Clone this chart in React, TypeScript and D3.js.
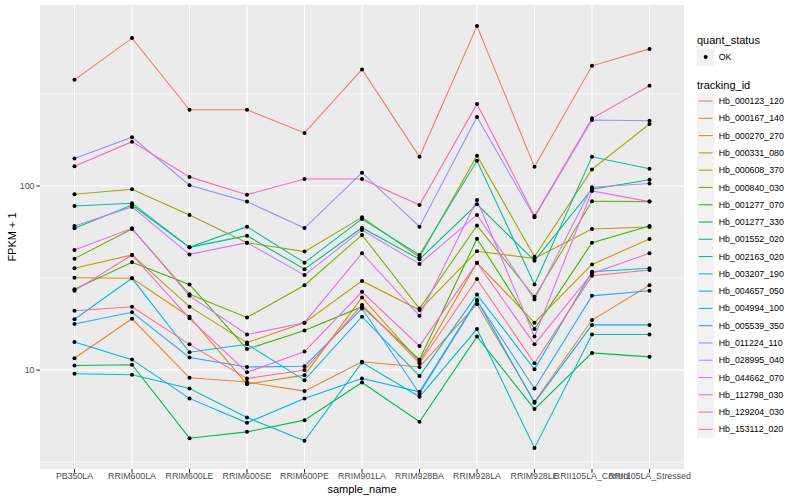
import * as d3 from "d3";

const sampleNames = [
  "PB350LA", "RRIM600LA", "RRIM600LE", "RRIM600SE", "RRIM600PE", "RRIM901LA",
  "RRIM928BA", "RRIM928LA", "RRIM928LE", "RRII105LA_Control", "RRII105LA_Stressed",
];

const trackingIds = [
  "Hb_000123_120", "Hb_000167_140", "Hb_000270_270", "Hb_000331_080", "Hb_000608_370",
  "Hb_000840_030", "Hb_001277_070", "Hb_001277_330", "Hb_001552_020", "Hb_002163_020",
  "Hb_003207_190", "Hb_004657_050", "Hb_004994_100", "Hb_005539_350", "Hb_011224_110",
  "Hb_028995_040", "Hb_044662_070", "Hb_112798_030", "Hb_129204_030", "Hb_153112_020",
];

const quantStatus = ["OK"];
const yTicks = [10, 100];

// FPKM + 1, one value per sample (same order as sampleNames)
const hb000123_120 = [377, 635, 259, 259, 194, 429, 144, 738, 127, 449, 555];
const hb000167_140 = [11.6, 19.0, 9.08, 8.61, 7.69, 11.1, 10.4, 22.8, 6.73, 18.7, 28.9];
const hb000270_270 = [31.7, 31.5, 19.5, 8.39, 9.39, 24.8, 11.1, 38.3, 18.1, 37.5, 51.5];
const hb000331_080 = [35.7, 42.2, 22.1, 14.1, 18.1, 30.5, 21.2, 44.2, 40.4, 58.4, 59.9];
const hb000608_370 = [90.1, 96.0, 69.6, 49.2, 44.0, 67.6, 41.0, 146, 41.3, 123, 217];
const hb000840_030 = [40.3, 58.4, 25.8, 19.3, 28.9, 54.2, 21.6, 60.9, 25.0, 82.6, 82.2];
const hb001277_070 = [27.5, 38.5, 29.2, 13.0, 16.4, 22.1, 11.4, 51.7, 16.7, 49.2, 60.6];
const hb001277_330 = [10.6, 10.7, 4.27, 4.62, 5.35, 8.57, 5.24, 15.2, 6.14, 12.4, 11.8];
const hb001552_020 = [58.9, 78.8, 46.4, 53.7, 35.3, 59.3, 40.0, 79.5, 39.3, 96.0, 108];
const hb002163_020 = [77.9, 80.5, 46.4, 60.1, 38.3, 66.2, 42.2, 137, 29.2, 144, 124];
const hb003207_190 = [9.55, 9.43, 7.95, 5.53, 4.13, 11.0, 7.16, 16.7, 3.78, 15.6, 15.6];
const hb004657_050 = [18.9, 31.5, 12.5, 13.8, 8.82, 19.5, 9.28, 25.7, 10.1, 34.2, 35.7];
const hb004994_100 = [14.2, 11.4, 7.02, 5.17, 7.02, 9.01, 7.62, 24.0, 6.64, 17.6, 17.6];
const hb005539_350 = [17.8, 20.6, 11.7, 10.4, 10.5, 21.6, 7.47, 23.8, 7.95, 25.3, 27.0];
const hb011224_110 = [141, 184, 101, 82.2, 59.1, 118, 60.1, 237, 67.6, 228, 226];
const hb028995_040 = [60.6, 76.9, 42.5, 49.2, 32.8, 57.7, 37.7, 69.6, 24.2, 98.4, 103];
const hb044662_070 = [44.9, 58.9, 25.3, 15.6, 18.1, 43.1, 19.7, 83.9, 15.2, 93.9, 82.2];
const hb112798_030 = [27.0, 42.2, 19.1, 9.72, 12.6, 26.6, 13.5, 38.3, 13.8, 33.5, 43.1];
const hb129204_030 = [128, 174, 112, 89.7, 109, 109, 78.8, 279, 68.7, 233, 350];
const hb153112_020 = [21.0, 22.1, 13.8, 9.01, 10.0, 22.6, 10.9, 31.2, 10.9, 32.5, 35.0];

const seriesValues = [
  hb000123_120, hb000167_140, hb000270_270, hb000331_080, hb000608_370,
  hb000840_030, hb001277_070, hb001277_330, hb001552_020, hb002163_020,
  hb003207_190, hb004657_050, hb004994_100, hb005539_350, hb011224_110,
  hb028995_040, hb044662_070, hb112798_030, hb129204_030, hb153112_020,
];

// ggplot2 default hue palette for 20 levels
const palette = [
  "#F8766D", "#EA8331", "#D89000", "#C09B00", "#A3A500", "#7CAE00", "#39B600",
  "#00BB4E", "#00BF7D", "#00C1A3", "#00BFC4", "#00BAE0", "#00B0F6", "#35A2FF",
  "#9590FF", "#C77CFF", "#E76BF3", "#FA62DB", "#FF62BC", "#FF6C91",
];

const font = "'Liberation Sans', Arial, Helvetica, sans-serif";

export default function App() {
  const width = 800;
  const height = 500;
  const panel = { left: 40, right: 684, top: 5, bottom: 469 };

  const x = d3.scalePoint<string>()
    .domain(sampleNames)
    .range([panel.left, panel.right])
    .padding(0.6);

  // log scale with ggplot-like 5% expansion
  const [lo, hi] = d3.extent(seriesValues.flat()).map((v) => Math.log10(v as number));
  const pad = (hi - lo) * 0.05;
  const y = d3.scaleLog()
    .domain([10 ** (lo - pad), 10 ** (hi + pad)])
    .range([panel.bottom, panel.top]);

  const minorTicks = [10 ** 0.5, 10 ** 1.5, 10 ** 2.5].filter(
    (v) => y(v) >= panel.top && y(v) <= panel.bottom
  );

  const line = d3.line<number>()
    .x((_, i) => x(sampleNames[i]) as number)
    .y((d) => y(d));

  const legendX = 697;
  const keySize = 17.28;
  const idsTop = 92.4;

  return (
    <svg
      width={width}
      height={height}
      style={{ position: "absolute", left: 0, top: 0, background: "#fff" }}
      fontFamily={font}
    >
      {/* panel */}
      <rect x={panel.left} y={panel.top} width={panel.right - panel.left}
        height={panel.bottom - panel.top} fill="#EBEBEB" />
      {minorTicks.map((v) => (
        <line key={"mi" + v} x1={panel.left} x2={panel.right} y1={y(v)} y2={y(v)}
          stroke="#fff" strokeWidth={0.53} />
      ))}
      {yTicks.map((v) => (
        <line key={"ma" + v} x1={panel.left} x2={panel.right} y1={y(v)} y2={y(v)}
          stroke="#fff" strokeWidth={1.07} />
      ))}
      {sampleNames.map((s) => (
        <line key={"vx" + s} x1={x(s)} x2={x(s)} y1={panel.top} y2={panel.bottom}
          stroke="#fff" strokeWidth={1.07} />
      ))}

      {/* lines */}
      {seriesValues.map((vals, i) => (
        <path key={trackingIds[i]} d={line(vals) || ""} fill="none"
          stroke={palette[i]} strokeWidth={1.07} />
      ))}
      {/* points */}
      {seriesValues.map((vals, i) =>
        vals.map((v, j) => (
          <circle key={trackingIds[i] + j} cx={x(sampleNames[j])} cy={y(v)} r={2} fill="#000" />
        ))
      )}

      {/* y axis */}
      {yTicks.map((v) => (
        <g key={"yt" + v}>
          <line x1={panel.left - 3.7} x2={panel.left} y1={y(v)} y2={y(v)} stroke="#333" strokeWidth={1.07} />
          <text x={panel.left - 5.5} y={y(v) + 3.1} textAnchor="end" fontSize={8.8} fill="#4D4D4D">{v}</text>
        </g>
      ))}
      {/* x axis */}
      {sampleNames.map((s) => (
        <g key={"xt" + s}>
          <line x1={x(s)} x2={x(s)} y1={panel.bottom} y2={panel.bottom + 3.7} stroke="#333" strokeWidth={1.07} />
          <text x={x(s)} y={panel.bottom + 9.8} textAnchor="middle" fontSize={8.8} fill="#4D4D4D">{s}</text>
        </g>
      ))}

      <text x={(panel.left + panel.right) / 2} y={493} textAnchor="middle" fontSize={11}>sample_name</text>
      <text transform={`translate(15.5,${(panel.top + panel.bottom) / 2}) rotate(-90)`}
        textAnchor="middle" fontSize={11}>FPKM + 1</text>

      {/* legend: quant_status */}
      <text x={legendX} y={44} fontSize={11}>quant_status</text>
      {quantStatus.map((q, i) => (
        <g key={q} transform={`translate(${legendX},${48.4 + i * keySize})`}>
          <rect width={keySize} height={keySize} fill="#F2F2F2" />
          <circle cx={keySize / 2} cy={keySize / 2} r={2} fill="#000" />
          <text x={keySize + 4.5} y={keySize / 2 + 3.1} fontSize={8.8}>{q}</text>
        </g>
      ))}

      {/* legend: tracking_id */}
      <text x={legendX} y={89} fontSize={11}>tracking_id</text>
      {trackingIds.map((id, i) => (
        <g key={"lg" + id} transform={`translate(${legendX},${idsTop + i * keySize})`}>
          <rect width={keySize} height={keySize} fill="#F2F2F2" />
          <line x1={1.7} x2={keySize - 1.7} y1={keySize / 2} y2={keySize / 2}
            stroke={palette[i]} strokeWidth={1.07} />
          <text x={keySize + 4.5} y={keySize / 2 + 3.1} fontSize={8.8}>{id}</text>
        </g>
      ))}
    </svg>
  );
}
